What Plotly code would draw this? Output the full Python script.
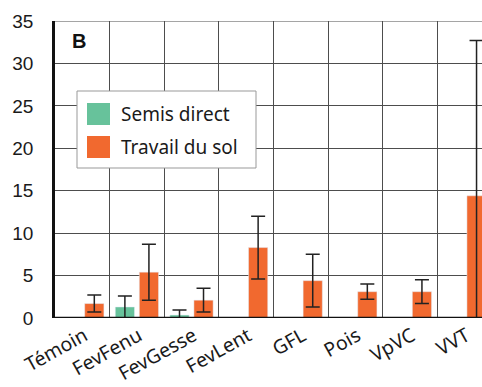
import plotly.graph_objects as go

categories = ["Témoin", "FevFenu", "FevGesse", "FevLent", "GFL", "Pois", "VpVC", "VVT"]
semis_direct = [None, 1.3, 0.35, None, None, None, None, None]
semis_direct_err = [None, 1.3, 0.6, None, None, None, None, None]
travail_sol = [1.7, 5.4, 2.1, 8.3, 4.4, 3.1, 3.1, 14.4]
travail_sol_err = [1.0, 3.3, 1.4, 3.7, 3.1, 0.9, 1.4, 18.3]
y_ticks = [0, 5, 10, 15, 20, 25, 30, 35]

GREEN = "#67c29b"
ORANGE = "#f1692f"
xpos = list(range(len(categories)))

fig = go.Figure()
fig.add_trace(go.Bar(
    x=xpos, y=semis_direct, name="Semis direct", marker_color=GREEN,
    error_y=dict(type="data", array=semis_direct_err, visible=True,
                 color="#222", thickness=1.5, width=7),
))
fig.add_trace(go.Bar(
    x=xpos, y=travail_sol, name="Travail du sol", marker_color=ORANGE,
    error_y=dict(type="data", array=travail_sol_err, visible=True,
                 color="#222", thickness=1.5, width=7),
))

fig.update_layout(
    width=482, height=387,
    margin=dict(l=55, r=0, t=21, b=69, autoexpand=False),
    paper_bgcolor="white", plot_bgcolor="white",
    barmode="group", bargap=0.12, bargroupgap=0.2,
    showlegend=False,
    font=dict(family="Liberation Sans", color="#1a1a1a"),
)
fig.update_xaxes(
    range=[-0.5, 7.32], tickmode="array", tickvals=xpos, ticktext=categories,
    tickangle=-29, tickfont=dict(family="Noto Sans", size=19.5, color="#1a1a1a"),
    ticklabelstandoff=2, ticklabelshift=2, automargin=False,
    showgrid=False, zeroline=False, showline=False, ticks="",
    minor=dict(tickmode="array", tickvals=[i + 0.5 for i in xpos],
               showgrid=True, gridcolor="#4d4d4d", gridwidth=1.1, ticks=""),
)
fig.update_yaxes(
    range=[0, 35], tickmode="array", tickvals=y_ticks, automargin=False,
    tickfont=dict(family="Liberation Sans", size=19, color="#1a1a1a"),
    showgrid=True, gridcolor="#4d4d4d", gridwidth=1.1, zeroline=False,
    showline=True, linecolor="#111", linewidth=2.5, ticks="",
    ticklabelstandoff=15,
)
# top border at 35 and heavy baseline
fig.add_shape(type="line", xref="paper", yref="y", x0=0, x1=1, y0=35, y1=35,
              line=dict(color="#4d4d4d", width=1.1))
fig.add_shape(type="line", xref="paper", yref="y", x0=0, x1=1, y0=0, y1=0,
              line=dict(color="#111", width=2.5), layer="above")

# panel letter
fig.add_annotation(text="<b>B</b>", xref="paper", yref="paper", x=0.036, y=0.975,
                   xanchor="left", yanchor="top", showarrow=False,
                   font=dict(family="Liberation Sans", size=20, color="#111"))

# manual legend
pw = 482 - 55
ph = 387 - 21 - 69
def px(x):
    return (x - 55) / pw
def py(y):
    return 1 - (y - 21) / ph

fig.add_shape(type="rect", xref="paper", yref="paper",
              x0=px(77), x1=px(256), y0=py(168), y1=py(91),
              line=dict(color="#999", width=1), fillcolor="white", layer="above")
for i, (lab, col) in enumerate([("Semis direct", GREEN), ("Travail du sol", ORANGE)]):
    yc = 114 + i * 33
    fig.add_shape(type="rect", xref="paper", yref="paper",
                  x0=px(87), x1=px(110), y0=py(yc + 11), y1=py(yc - 11),
                  line=dict(width=0), fillcolor=col, layer="above")
    fig.add_annotation(text=lab, xref="paper", yref="paper", x=px(119), y=py(yc),
                       xanchor="left", yanchor="middle", showarrow=False,
                       font=dict(family="Noto Sans", size=19, color="#1a1a1a"))

fig.write_html("out.html")
